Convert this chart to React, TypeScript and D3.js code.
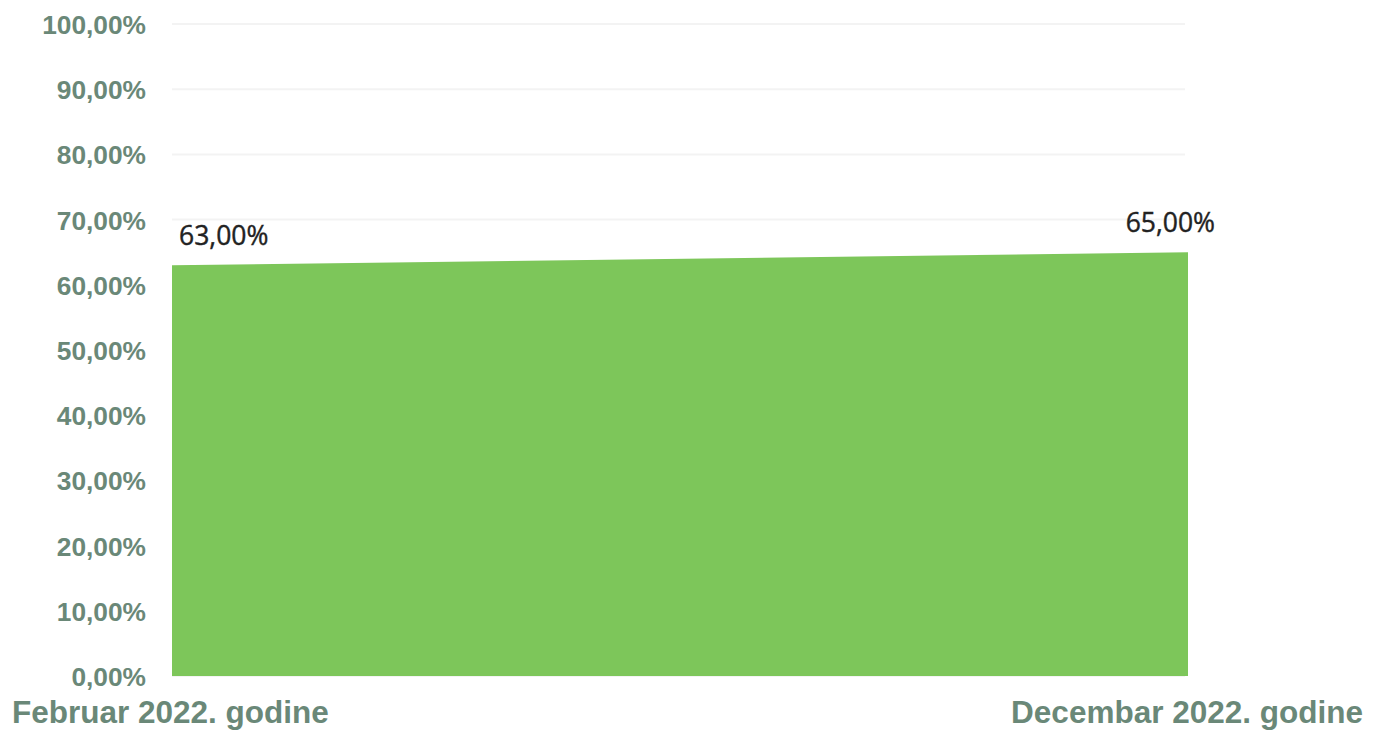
import React from "react";
import * as d3 from "d3";

const categories = ["Februar 2022. godine", "Decembar 2022. godine"];
const values = [63, 65];
const yTicks = [0, 10, 20, 30, 40, 50, 60, 70, 80, 90, 100];

const W = 1375;
const H = 736;
const fmt = (v: number) => v.toFixed(2).replace(".", ",") + "%";

export default function App() {
  const x = d3.scalePoint<string>().domain(categories).range([172, 1188]);
  const y = d3.scaleLinear().domain([0, 100]).range([676, 24]);
  const data = categories.map((c, i) => ({ c, v: values[i] }));
  const area = d3
    .area<{ c: string; v: number }>()
    .x((d) => x(d.c) as number)
    .y0(y(0))
    .y1((d) => y(d.v));

  const labelColor = "#6a8878";
  return (
    <svg
      width={W}
      height={H}
      style={{ position: "absolute", left: 0, top: 0, background: "#fff" }}
    >
      {yTicks.map((t) => (
        <line
          key={"g" + t}
          x1={172}
          x2={1185}
          y1={y(t)}
          y2={y(t)}
          stroke="#f3f3f3"
          strokeWidth={2}
        />
      ))}
      <path d={area(data) || ""} fill="#7dc65a" />
      {yTicks.map((t) => (
        <text
          key={"t" + t}
          x={146}
          y={y(t) + 10}
          textAnchor="end"
          fontFamily="'Liberation Sans', Arial, sans-serif"
          fontWeight="bold"
          fontSize={26.3}
          fill={labelColor}
        >
          {fmt(t)}
        </text>
      ))}
      {data.map((d, i) => (
        <text
          key={"x" + i}
          x={i === 0 ? 12 : 1363}
          y={723}
          textAnchor={i === 0 ? "start" : "end"}
          fontFamily="'Liberation Sans', Arial, sans-serif"
          fontWeight="bold"
          fontSize={31.5}
          fill={labelColor}
        >
          {d.c}
        </text>
      ))}
      {data.map((d, i) => (
        <text
          key={"l" + i}
          x={(x(d.c) as number) + (i === 0 ? 7 : 27)}
          y={y(d.v) - 20}
          textAnchor={i === 0 ? "start" : "end"}
          fontFamily="'Open Sans', sans-serif"
          fontSize={26.5}
          fill="#222"
          stroke="#222"
          strokeWidth={0.4}
        >
          {fmt(d.v)}
        </text>
      ))}
    </svg>
  );
}
